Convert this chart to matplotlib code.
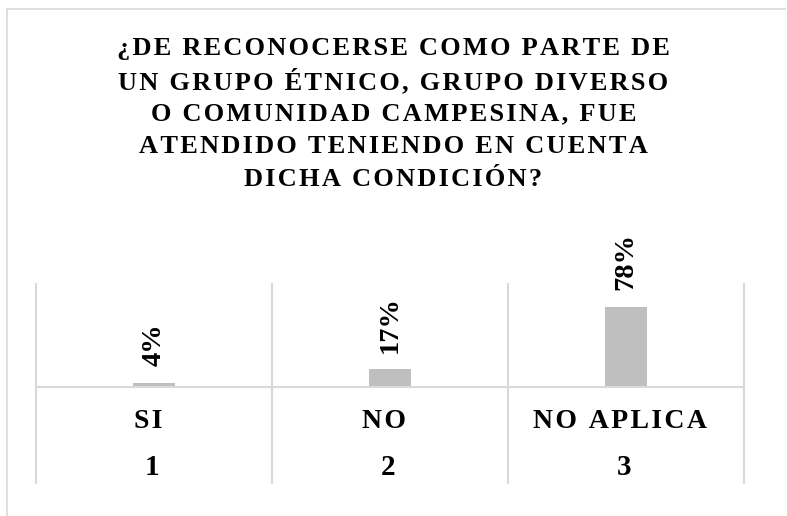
import matplotlib
matplotlib.use("Agg")
import matplotlib.pyplot as plt
from matplotlib.lines import Line2D
from matplotlib.transforms import blended_transform_factory, offset_copy

# data
categories = ["SI", "NO", "NO APLICA"]
codes = ["1", "2", "3"]
values = [0.04, 0.17, 0.78]
title_lines = [
    "¿DE RECONOCERSE COMO PARTE DE",
    "UN GRUPO ÉTNICO, GRUPO DIVERSO",
    "O COMUNIDAD CAMPESINA, FUE",
    "ATENDIDO TENIENDO EN CUENTA",
    "DICHA CONDICIÓN?",
]

SERIF = ["Liberation Serif", "DejaVu Serif"]
GRID = "#D9D9D9"
BAR = "#BFBFBF"
W, H = 787, 516


def spaced(s, sep="\u200a"):
    # poor man's letter spacing
    return sep.join(s)


fig = plt.figure(figsize=(W / 100, H / 100), dpi=100)

# chart frame (only the top and left edges are visible in the reference)
fig.add_artist(Line2D([7 / W, 7 / W], [0, 1 - 9 / H], color=GRID, lw=1.2))
fig.add_artist(Line2D([7 / W, 785 / W], [1 - 9 / H, 1 - 9 / H], color=GRID, lw=1.2))

# title, one text per line
y0, step = 49, 32.5
for i, line in enumerate(title_lines):
    fig.text(0.5, 1 - (y0 + i * step) / H, spaced(line), ha="center", va="center",
             fontsize=19, fontweight="bold", family=SERIF, color="#000000")

ax = fig.add_axes([36 / W, 1 - 387 / H, 708 / W, 103 / H])
x = list(range(len(categories)))
bars = ax.bar(x, values, width=0.18, color=BAR, zorder=2)
ax.set_xlim(-0.5, len(categories) - 0.5)
ax.set_ylim(0, 1.0)

for s in ["top", "left", "right"]:
    ax.spines[s].set_visible(False)
ax.spines["bottom"].set_color(GRID)
ax.spines["bottom"].set_linewidth(1.5)
ax.set_xticks([])
ax.set_yticks([])

# category separators running down through the label rows
bottom = -(483 - 387) / 103
for k in range(len(categories) + 1):
    ax.axvline(k - 0.5, ymin=bottom, ymax=1, color=GRID, lw=1.5, clip_on=False, zorder=1)

# data labels
for xi, v in zip(x, values):
    ax.annotate(f"{v * 100:.0f}%", (xi, v), xytext=(0, 12), textcoords="offset points",
                rotation=90, ha="center", va="bottom", fontsize=20.5, fontweight="bold",
                family=SERIF)

# two-level category axis (labels sit slightly left of centre, as in Excel)
tr = blended_transform_factory(ax.transData, ax.transAxes)
tr_cat = offset_copy(tr, fig=fig, x=-6, y=0, units="dots")
tr_code = offset_copy(tr, fig=fig, x=-2, y=0, units="dots")
for xi, cat, code in zip(x, categories, codes):
    ax.text(xi, -(428 - 387) / 103, spaced(cat), transform=tr_cat, ha="center", va="baseline",
            fontsize=20, fontweight="bold", family=SERIF)
    ax.text(xi, -(475 - 387) / 103, code, transform=tr_code, ha="center", va="baseline",
            fontsize=21, fontweight="bold", family=SERIF)

fig.savefig("out.png", dpi=100)
